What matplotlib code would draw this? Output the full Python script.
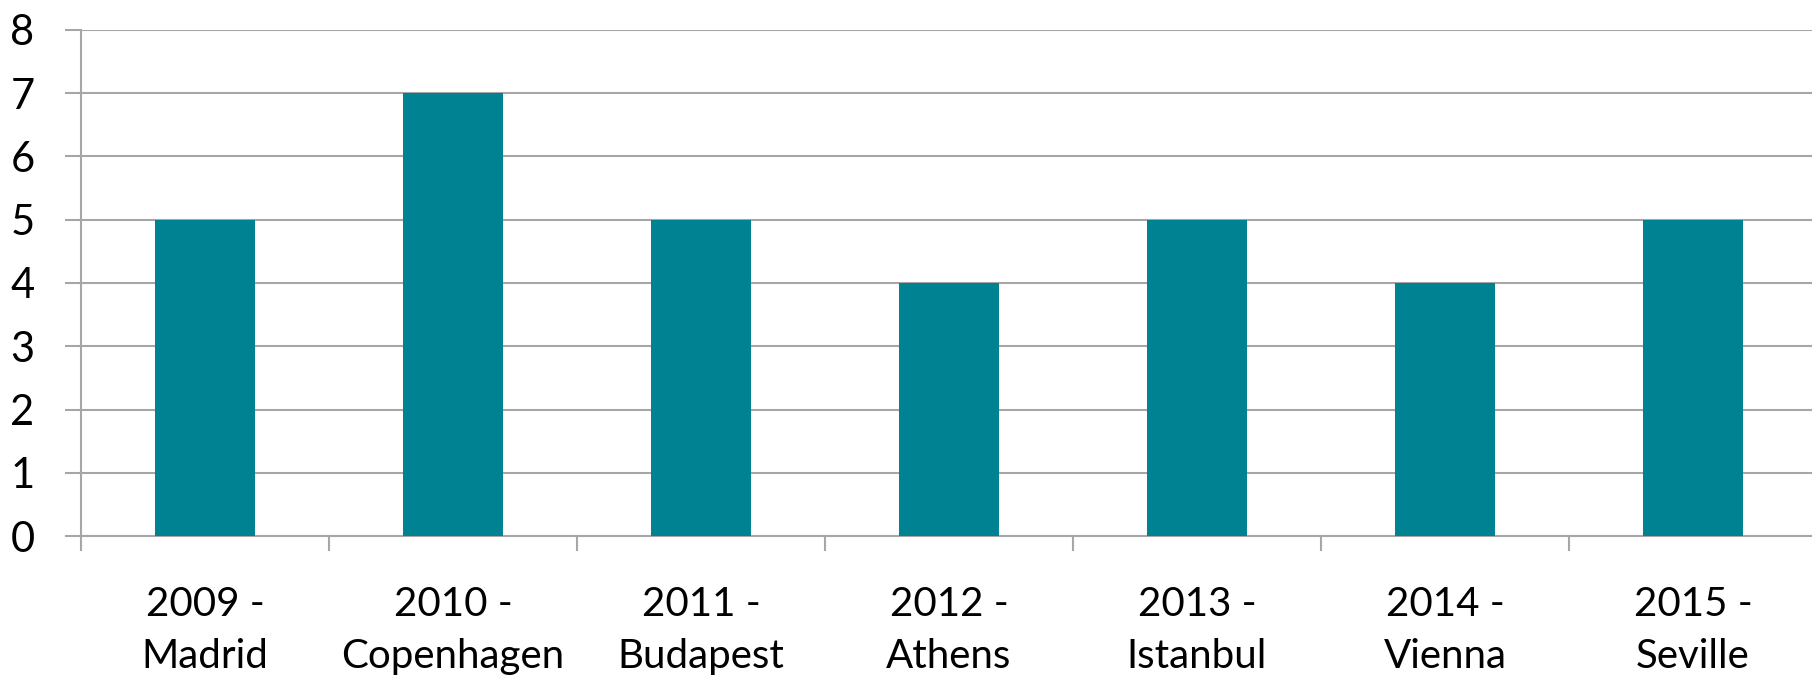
import matplotlib.pyplot as plt
import numpy as np

years = ['2009', '2010', '2011', '2012', '2013', '2014', '2015']
cities = ['Madrid', 'Copenhagen', 'Budapest', 'Athens', 'Istanbul', 'Vienna', 'Seville']
counts = [5, 7, 5, 4, 5, 4, 5]

labels = [f'{y} -\n{c}' for y, c in zip(years, cities)]

plt.rcParams['font.family'] = ['Lato', 'DejaVu Sans']

fig = plt.figure(figsize=(18.12, 6.76), dpi=100)
ax = fig.add_axes([81 / 1812, 140 / 676, 1736 / 1812, 506 / 676])

x = np.arange(len(counts))
ax.bar(x, counts, width=0.4, color='#008292', zorder=3)

grid_c = '#A6A6A6'
ax.set_ylim(0, 8)
ax.set_xlim(-0.5, len(counts) - 0.5)
ax.set_yticks(range(0, 9))
ax.yaxis.grid(True, color=grid_c, linewidth=1.5, zorder=0)
ax.tick_params(axis='y', length=11.5, width=1.5, color=grid_c, pad=22, labelsize=30)

ax.set_xticks(x)
ax.set_xticklabels(labels, fontsize=29, linespacing=1.5)
ax.set_xticks(np.arange(-0.5, len(counts), 1.0), minor=True)
ax.tick_params(axis='x', which='major', length=0, pad=36)
ax.tick_params(axis='x', which='minor', length=11, width=1.5, color=grid_c)

for s in ['top', 'right']:
    ax.spines[s].set_visible(False)
for s in ['left', 'bottom']:
    ax.spines[s].set_color(grid_c)
    ax.spines[s].set_linewidth(1.5)

fig.savefig('out.png', dpi=100)
